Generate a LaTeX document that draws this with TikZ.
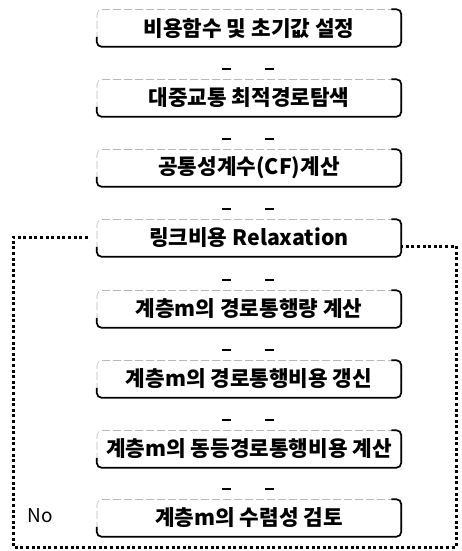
\documentclass[tikz,border=0pt]{standalone}
\usepackage{fontspec}
\setmainfont{Noto Sans CJK KR}
\usetikzlibrary{calc}
\begin{document}
\begin{tikzpicture}[x=1pt,y=-1pt,
  stepbox/.style={rounded corners=5pt, minimum width=304pt, minimum height=37pt,
    draw=gray!55, line width=0.6pt, dash pattern=on 8pt off 3pt,
    font=\fontsize{21.3}{23}\selectfont\bfseries, inner sep=0pt},
  heavy/.style={line width=1.7pt, rounded corners=5pt},
  tick/.style={line width=1.6pt},
  loopline/.style={line width=3pt, dash pattern=on 3pt off 2.6pt}]
\useasboundingbox (0,0) rectangle (461,551);
\node[stepbox] (b1) at (249,28)  {비용함수 및 초기값 설정};
\node[stepbox] (b2) at (249,98)  {대중교통 최적경로탐색};
\node[stepbox] (b3) at (249,168) {공통성계수(CF)계산};
\node[stepbox] (b4) at (249,238) {링크비용 Relaxation};
\node[stepbox] (b5) at (249,309) {계층m의 경로통행량 계산};
\node[stepbox] (b6) at (249,379) {계층m의 경로통행비용 갱신};
\node[stepbox] (b7) at (249,449) {계층m의 동등경로통행비용 계산};
\node[stepbox] (b8) at (249,518) {계층m의 수렴성 검토};
\foreach \i in {1,...,8}{
  \draw[heavy] ($(b\i.south west)+(0,-10)$) |- (b\i.south east) |- ($(b\i.north east)+(-10,0)$);
}
\foreach \i in {2,...,8}{
  \draw[tick] ($(b\i.north)+(-27,-10)$) -- ++(9,0);
  \draw[tick] ($(b\i.north)+(16,-10)$) -- ++(9,0);
}
\coordinate (lt) at (13,237);
\coordinate (lb) at (13,547);
\coordinate (rb) at (456,547);
\coordinate (rt) at (456,246);
\draw[loopline] ($(b4.west |- lt)+(-9,0)$) -- (lt) -- (lb) -- (rb) -- (rt) -- (b4.east |- rt);
\node[font=\fontsize{19}{20}\selectfont] (no) at (40,516) {No};
\end{tikzpicture}
\end{document}
